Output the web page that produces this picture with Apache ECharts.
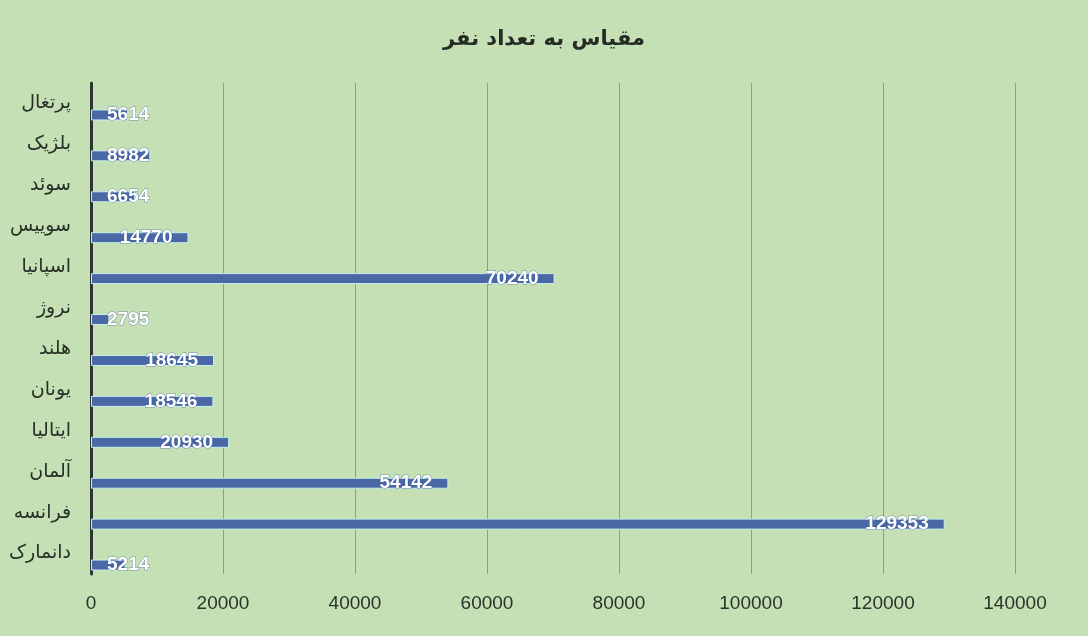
<!DOCTYPE html>
<html><head><meta charset="utf-8">
<script src="https://cdn.jsdelivr.net/npm/echarts@6/dist/echarts.min.js"></script>
<style>html,body{margin:0;padding:0;background:#c5e0b4}#c{width:1088px;height:636px}</style>
</head><body><div id="c"></div>
<script>
const title = 'مقیاس به تعداد نفر';
const categories = ['دانمارک','فرانسه','آلمان','ایتالیا','یونان','هلند','نروژ','اسپانیا','سوییس','سوئد','بلژیک','پرتغال'];
const values = [5214,129353,54142,20930,18546,18645,2795,70240,14770,6654,8982,5614];
const xMax = 140000, xStep = 20000;

const gridLeft = 91, gridRight = 73;
const plotW = 1088 - gridLeft - gridRight;
const data = values.map(v => {
  const len = v / xMax * plotW;
  const labW = String(v).length * 11;
  const small = len - 16 < 16 + labW;
  return {value: v, label: {position: small ? 'insideLeft' : 'insideRight'}};
});

const chart = echarts.init(document.getElementById('c'), null, {renderer: 'canvas'});
chart.setOption({
  backgroundColor: '#c5e0b4',
  animation: false,
  title: {text: title, left: 'center', top: 24,
    textStyle: {fontFamily: 'DejaVu Sans', fontSize: 21, fontWeight: 'bold', color: '#262b26'}},
  grid: {left: gridLeft, right: gridRight, top: 83, height: 491},
  xAxis: {type: 'value', min: 0, max: xMax, interval: xStep,
    axisLine: {show: false}, axisTick: {show: false},
    axisLabel: {fontFamily: 'Liberation Sans', fontSize: 19, color: '#2a352a', margin: 20,
      formatter: v => String(v)},
    splitLine: {lineStyle: {color: '#8c9f88', width: 1}}},
  yAxis: {type: 'category', data: categories,
    axisLine: {show: true, lineStyle: {color: '#2e3530', width: 3}},
    axisTick: {show: false},
    axisLabel: {fontFamily: 'DejaVu Sans', fontSize: 19, color: '#263026', margin: 20}},
  series: [
    {type: 'bar', data: values.map(() => '-'), barWidth: 11, barGap: '109%'},
    {type: 'bar', data: data, barWidth: 11, barGap: '109%',
      itemStyle: {color: '#4a67a6', borderColor: '#c8f0ec', borderWidth: 1},
      label: {show: true, distance: 16, fontFamily: 'Liberation Sans', fontSize: 19, fontWeight: 'bold',
        color: '#ffffff', textBorderColor: 'rgba(60,90,150,0.6)', textBorderWidth: 1,
        formatter: p => String(p.value)}}
  ]
});
</script></body></html>
